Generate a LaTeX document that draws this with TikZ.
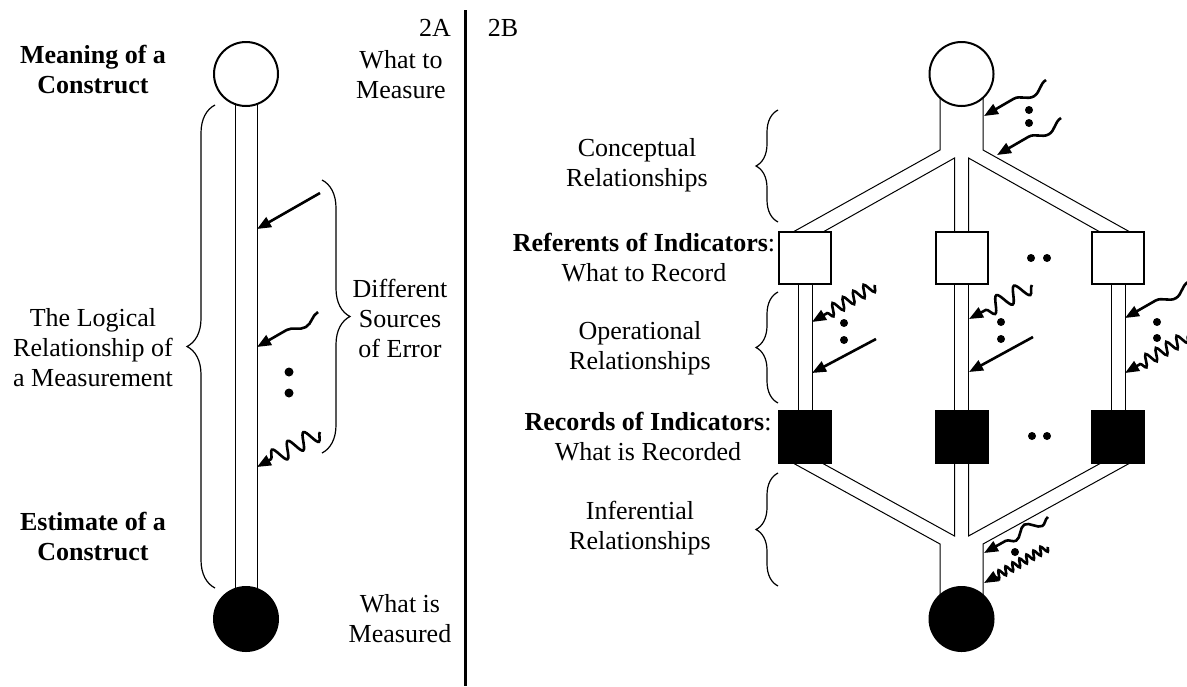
\documentclass[tikz,border=0pt]{standalone}
\usepackage{fontspec}
\setmainfont{Liberation Serif}
\usetikzlibrary{arrows.meta,calc,decorations.pathmorphing,decorations.pathreplacing}

\begin{document}
\begin{tikzpicture}[x=0.5pt, y=-0.5pt,
  lbl/.style={align=center, font=\fontsize{13}{15}\selectfont},
  boldlbl/.style={align=center, font=\fontsize{13}{15}\selectfont\bfseries},
  pipewall/.style={line width=0.5pt},
  bulb/.style={circle, draw, line width=1pt, minimum size=32pt, inner sep=0pt},
  sqbox/.style={rectangle, draw, line width=1pt, minimum size=26pt, inner sep=0pt},
  errtip/.style={line width=1.3pt, -{Triangle[length=7pt,width=5.5pt]}},
  wavy/.style 2 args={errtip, decorate, decoration={snake, segment length=#1, amplitude=#2, post length=6pt}},
  bdot/.style={circle, fill, inner sep=0pt, minimum size=#1},
  bdot/.default=4.5pt,
  brc/.style={decorate, decoration={brace, amplitude=#1}, line width=0.6pt},
]
\useasboundingbox (0,0) rectangle (1187,686);

% ---- 2A ----
\coordinate (cTopA) at (246,74);
\coordinate (cBotA) at (246,619);
\draw[pipewall] ($(cTopA)+(-11,0)$) -- ($(cBotA)+(-11,0)$);
\draw[pipewall] ($(cTopA)+(11,0)$) -- ($(cBotA)+(11,0)$);
\node[bulb, fill=white] (meanA) at (cTopA) {};
\node[bulb, fill=black] (estA) at (cBotA) {};

\node[boldlbl] (meaning) at (93,70) {Meaning of a\\Construct};
\node[boldlbl] (estimate) at (93,536) {Estimate of a\\Construct};
\node[lbl] (logical) at (93,348) {The Logical\\Relationship of\\a Measurement};
\node[lbl] (twoA) at (435,28) {2A};
\node[lbl] (toMeasure) at (401,75) {What to\\Measure};
\node[lbl] (measured) at (400,619) {What is\\Measured};
\node[lbl] (sources) at (400,318) {Different\\Sources\\of Error};

\draw[brc=14pt] (215,588) -- (215,105);
\draw[brc=14pt] (322,180) -- (322,453);

% errors on the single line
\draw[errtip] (320,193) -- (257,229);
\draw[wavy={29pt}{3.5pt}] (318,312) -- (257,347);
\node[bdot] (dA1) at (289,372) {};
\node[bdot] (dA2) at (289,393) {};
\draw[wavy={9pt}{4pt}] (320,432) -- (257,467);

% separator
\draw[line width=1.5pt] (465,10) -- (465,686);

% ---- 2B ----
\node[lbl] (twoB) at (503,28) {2B};
\coordinate (cTopB) at (961.5,74);
\coordinate (cBotB) at (961.5,619);

% upper branches
\draw[pipewall] ($(cTopB)+(-21.5,0)$) -- (940,150) -- (793,232);
\draw[pipewall] ($(cTopB)+(21.5,0)$) -- (983,150) -- (1130,232);
\draw[pipewall] (823,232) -- (954.5,158) -- (954.5,232);
\draw[pipewall] (1100,232) -- (968.5,158) -- (968.5,232);

% lower branches
\draw[pipewall] (793,463) -- (940,544) -- ($(cBotB)+(-21.5,0)$);
\draw[pipewall] (1130,463) -- (983,544) -- ($(cBotB)+(21.5,0)$);
\draw[pipewall] (822,463) -- (954.5,536) -- (954.5,463);
\draw[pipewall] (1101,463) -- (968.5,536) -- (968.5,463);

\foreach \c/\n in {805/1, 961.5/2, 1118/3} {
  \draw[pipewall] (\c-7,284) -- (\c-7,410);
  \draw[pipewall] (\c+7,284) -- (\c+7,410);
  \node[sqbox, fill=white] (ref\n) at (\c,258) {};
  \node[sqbox, fill=black] (rec\n) at (\c,436.5) {};
}
\node[bulb, fill=white] (meanB) at (cTopB) {};
\node[bulb, fill=black] (estB) at (cBotB) {};

\node[bdot=4pt] (hr1) at (1031,258) {};
\node[bdot=4pt] (hr2) at (1047,258) {};
\node[bdot=4pt] (hk1) at (1032,436) {};
\node[bdot=4pt] (hk2) at (1047,436) {};

% labels and braces
\node[lbl] (concept) at (637,165) {Conceptual\\Relationships};
\node[lbl] (referents) at (644,258) {\textbf{Referents of Indicators}:\\What to Record};
\node[lbl] (operat) at (640,348) {Operational\\Relationships};
\node[lbl] (records) at (648,437) {\textbf{Records of Indicators}:\\What is Recorded};
\node[lbl] (infer) at (640,528) {Inferential\\Relationships};
\draw[brc=11pt] (778,222) -- (778,110);
\draw[brc=11pt] (778,403) -- (778,292);
\draw[brc=11pt] (778,586) -- (778,473);

% errors: conceptual
\draw[wavy={30pt}{4pt}] (1046,80) -- (984,116);
\node[bdot=4pt] (dt1) at (1029,110) {};
\node[bdot=4pt] (dt2) at (1029,123) {};
\draw[wavy={30pt}{4pt}] (1061,118) -- (997,155);

% errors: operational
\draw[wavy={6pt}{3pt}] (875,285) -- (812,322);
\node[bdot=4pt] (dl1) at (844,323) {};
\node[bdot=4pt] (dl2) at (844,340) {};
\draw[errtip] (876,339) -- (812,373);

\draw[wavy={10pt}{4pt}] (1032,285) -- (969,319);
\node[bdot=4pt] (dm1) at (1001,322) {};
\node[bdot=4pt] (dm2) at (1001,339) {};
\draw[errtip] (1033,337) -- (969,372);

\draw[wavy={30pt}{4pt}] (1188,282) -- (1125,318);
\node[bdot=4pt] (dr1) at (1157,322) {};
\node[bdot=4pt] (dr2) at (1157,338) {};
\draw[wavy={6pt}{3pt}] (1188,336) -- (1125,373);

% errors: inferential
\draw[wavy={15pt}{2.5pt}] (1048,517) -- (984,553);
\node[bdot=4pt] (db1) at (1015,552) {};
\draw[wavy={4pt}{2pt}] (1048,547) -- (984,583);

\end{tikzpicture}
\end{document}
